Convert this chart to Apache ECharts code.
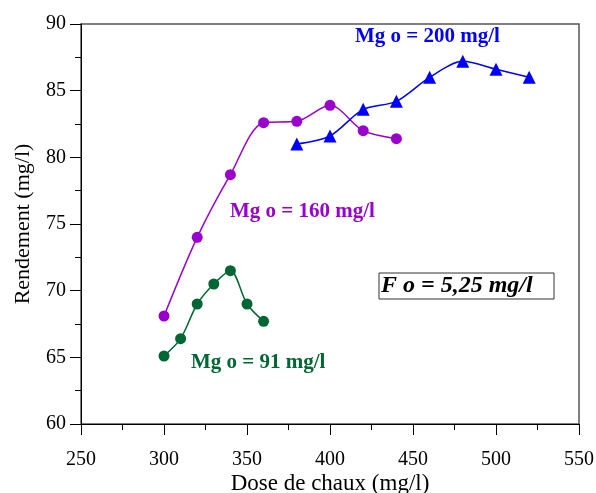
<!DOCTYPE html>
<html><head><meta charset="utf-8">
<script src="https://cdn.jsdelivr.net/npm/echarts@6/dist/echarts.min.js"></script>
<style>html,body{margin:0;padding:0;background:#fff}#c{width:596px;height:493px}</style>
</head><body><div id="c"></div>
<script>
const xGreen = [300, 310, 320, 330, 340, 350, 360];
const yGreen = [65.1, 66.4, 69.0, 70.5, 71.5, 69.0, 67.7];
const xPurple = [300, 320, 340, 360, 380, 400, 420, 440];
const yPurple = [68.1, 74.0, 78.7, 82.6, 82.7, 83.9, 82.0, 81.4];
const xBlue = [380, 400, 420, 440, 460, 480, 500, 520];
const yBlue = [81.0, 81.6, 83.6, 84.2, 86.0, 87.2, 86.6, 86.0];
const labels = ['Mg o = 91 mg/l', 'Mg o = 160 mg/l', 'Mg o = 200 mg/l', 'F o = 5,25 mg/l'];
const xName = 'Dose de chaux (mg/l)';
const yName = 'Rendement (mg/l)';

const zip = (a, b) => a.map((v, i) => [v, b[i]]);
const font = 'Liberation Serif';
const chart = echarts.init(document.getElementById('c'));
const axisCommon = {
  axisLine: {show: true, lineStyle: {color: '#000', width: 1}},
  axisTick: {show: true, inside: false, length: 11, lineStyle: {color: '#000'}},
  minorTick: {show: true, splitNumber: 2, length: 6, lineStyle: {color: '#000'}},
  splitLine: {show: false},
  axisLabel: {color: '#000', fontFamily: font, fontSize: 20},
  nameTextStyle: {color: '#000', fontFamily: font, fontSize: 22},
  nameLocation: 'middle',
  nameMoveOverlap: false
};
chart.setOption({
  animation: false,
  grid: {left: 81, right: 17, top: 24, bottom: 69, containLabel: false, outerBoundsMode: 'none',
         show: true, borderColor: '#555', borderWidth: 1.5},
  xAxis: Object.assign({}, axisCommon, {type: 'value', min: 250, max: 550, interval: 50, name: xName, nameGap: 48,
    nameTextStyle: Object.assign({}, axisCommon.nameTextStyle, {fontSize: 23}),
    axisLabel: Object.assign({}, axisCommon.axisLabel, {margin: 26})}),
  yAxis: Object.assign({}, axisCommon, {type: 'value', min: 60, max: 90, interval: 5, name: yName, nameGap: 47,
    axisLabel: Object.assign({}, axisCommon.axisLabel, {margin: 15})}),
  series: [
    {type: 'line', data: zip(xGreen, yGreen), smooth: 0.3, symbol: 'circle', symbolSize: 11,
     itemStyle: {color: '#006633'}, lineStyle: {color: '#006633', width: 1.5}},
    {type: 'line', data: zip(xPurple, yPurple), smooth: 0.3, symbol: 'circle', symbolSize: 11,
     itemStyle: {color: '#9900CC'}, lineStyle: {color: '#9900CC', width: 1.5}},
    {type: 'line', data: zip(xBlue, yBlue), smooth: 0.3, symbol: 'triangle', symbolSize: 13,
     itemStyle: {color: '#0000FF'}, lineStyle: {color: '#0000FF', width: 1.5}}
  ],
  graphic: [
    {type: 'text', left: 191, top: 352, style: {text: labels[0], fill: '#006633', font: 'bold 21px ' + font}},
    {type: 'text', left: 230, top: 201, style: {text: labels[1], fill: '#9900CC', font: 'bold 21px ' + font}},
    {type: 'text', left: 355, top: 26, style: {text: labels[2], fill: '#0000FF', font: 'bold 21px ' + font}},
    {type: 'rect', shape: {x: 379, y: 273, width: 175, height: 26}, style: {fill: 'none', stroke: '#333', lineWidth: 1}},
    {type: 'text', left: 381, top: 274, style: {text: labels[3], fill: '#000', font: 'italic bold 24px ' + font}}
  ]
});
</script></body></html>
